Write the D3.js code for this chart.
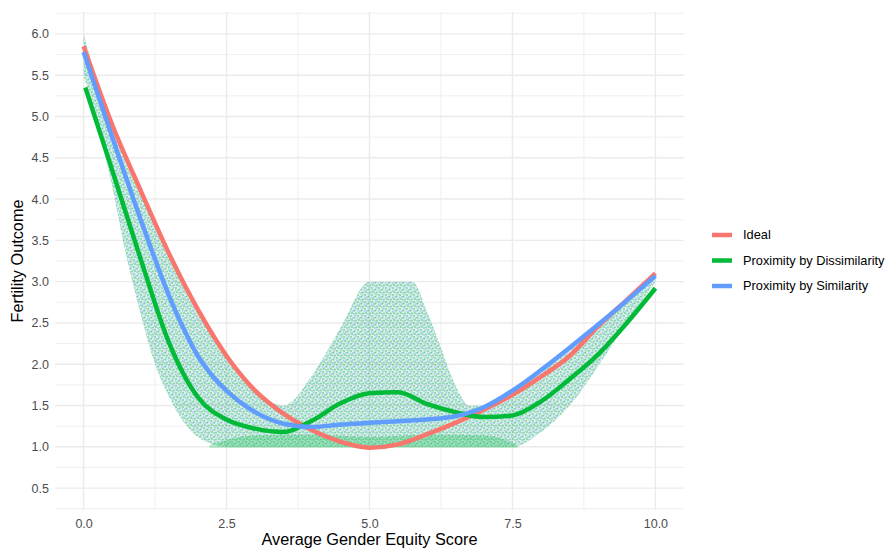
<!DOCTYPE html>
<html>
<head>
<meta charset="utf-8">
<script src="https://cdn.jsdelivr.net/npm/d3@7"></script>
<style>
    body { margin: 0; background: #fff; font-family: "Liberation Sans", Arial, sans-serif; }
</style>
</head>
<body>
<svg width="888" height="549"></svg>
<script>
// smoothed curves
const idealX = [0, 0.5, 1, 1.5, 2, 2.5, 3, 3.5, 4, 4.5, 5, 5.5, 6, 6.5, 7, 7.5, 8, 8.5, 9, 9.5, 10];
const idealValues = [5.85, 4.9, 4.1, 3.33, 2.66, 2.1, 1.68, 1.4, 1.2, 1.06, 0.99, 1.03, 1.15, 1.29, 1.45, 1.63, 1.85, 2.1, 2.46, 2.78, 3.1];
const similarityX = [0, 0.5, 1, 1.5, 1.75, 2, 2.25, 2.5, 3, 3.5, 4, 4.5, 5, 5.5, 6, 6.5, 7, 7.5, 8, 8.5, 9, 9.5, 10];
const similarityValues = [5.78, 4.75, 3.75, 2.82, 2.43, 2.1, 1.86, 1.68, 1.42, 1.28, 1.24, 1.27, 1.29, 1.31, 1.33, 1.37, 1.48, 1.68, 1.93, 2.2, 2.48, 2.77, 3.07];
const dissimilarityX = [0.03, 0.5, 1, 1.5, 2, 2.5, 3, 3.5, 4, 4.5, 5, 5.5, 6, 6.5, 7, 7.5, 8, 8.5, 9, 9.5, 10];
const dissimilarityValues = [5.35, 4.35, 3.27, 2.25, 1.6, 1.33, 1.22, 1.18, 1.32, 1.53, 1.65, 1.66, 1.52, 1.42, 1.36, 1.38, 1.55, 1.82, 2.12, 2.5, 2.92];

// outline of the scattered points (both proximity series)
const cloudX = [0, 0.25, 0.5, 0.75, 1, 1.25, 1.5, 1.75, 2, 2.25, 2.5, 3, 3.5, 4, 4.5, 5, 5.5, 5.75, 6, 6.25, 6.5, 6.75, 7, 7.5, 8, 8.5, 9, 9.5, 10];
const cloudHigh = [6.0, 5.4, 4.9, 4.5, 4.1, 3.7, 3.33, 2.98, 2.66, 2.37, 2.1, 1.68, 1.5, 1.87, 2.45, 3.0, 3.0, 3.0, 2.65, 2.2, 1.75, 1.5, 1.5, 1.7, 1.95, 2.22, 2.5, 2.8, 3.08];
const cloudLow = [5.5, 4.9, 4.15, 3.3, 2.6, 2.0, 1.6, 1.3, 1.12, 1.03, 1.0, 1.0, 1.0, 1.0, 1.0, 1.0, 1.0, 1.0, 1.0, 1.0, 1.0, 1.0, 1.0, 1.0, 1.18, 1.5, 1.98, 2.5, 3.0];
// dense band of points sitting on the floor
const floorX = [2.2, 2.6, 3, 4, 5, 6, 7, 7.4, 7.6];
const floorHigh = [1.02, 1.1, 1.14, 1.15, 1.12, 1.15, 1.14, 1.08, 1.01];

const seriesNames = ['Ideal', 'Proximity by Dissimilarity', 'Proximity by Similarity'];
const seriesColors = ['#F8766D', '#00BA38', '#619CFF'];
const xTicks = [0, 2.5, 5, 7.5, 10];
const yTicks = [0.5, 1, 1.5, 2, 2.5, 3, 3.5, 4, 4.5, 5, 5.5, 6];

const svg = d3.select('svg');
const panel = { left: 55, right: 684, top: 12, bottom: 510 };

const x = d3.scaleLinear().domain([-0.5, 10.5]).range([panel.left, panel.right]);
const y = d3.scaleLinear().domain([0.235, 6.265]).range([panel.bottom, panel.top]);

// speckle texture for the point cloud
const defs = svg.append('defs');
const pat = defs.append('pattern')
    .attr('id', 'speckle')
    .attr('patternUnits', 'userSpaceOnUse')
    .attr('width', 7).attr('height', 7);
pat.append('rect').attr('width', 7).attr('height', 7).attr('fill', '#4FB48A').attr('fill-opacity', 0.2);
[[1, 1, 0], [4.5, 2.5, 0], [2, 5, 0], [6, 5.5, 0], [3, 3, 1], [5.5, 0.5, 1], [0.5, 3.5, 1], [4, 6, 1]].forEach(d => {
    pat.append('circle')
        .attr('cx', d[0]).attr('cy', d[1]).attr('r', 0.9)
        .attr('fill', d[2] ? '#619CFF' : '#00BA38')
        .attr('fill-opacity', d[2] ? 0.45 : 0.5);
});

// gridlines
const minorX = [1.25, 3.75, 6.25, 8.75];
const minorY = d3.range(0.25, 6.3, 0.5);
const grid = svg.append('g').attr('class', 'grid');
grid.selectAll('.minor-x').data(minorX).enter().append('line')
    .attr('x1', d => x(d)).attr('x2', d => x(d))
    .attr('y1', panel.top).attr('y2', panel.bottom)
    .attr('stroke', '#EBEBEB').attr('stroke-width', 0.8);
grid.selectAll('.minor-y').data(minorY).enter().append('line')
    .attr('x1', panel.left).attr('x2', panel.right)
    .attr('y1', d => y(d)).attr('y2', d => y(d))
    .attr('stroke', '#EBEBEB').attr('stroke-width', 0.8);
grid.selectAll('.major-x').data(xTicks).enter().append('line')
    .attr('x1', d => x(d)).attr('x2', d => x(d))
    .attr('y1', panel.top).attr('y2', panel.bottom)
    .attr('stroke', '#EBEBEB').attr('stroke-width', 1.4);
grid.selectAll('.major-y').data(yTicks).enter().append('line')
    .attr('x1', panel.left).attr('x2', panel.right)
    .attr('y1', d => y(d)).attr('y2', d => y(d))
    .attr('stroke', '#EBEBEB').attr('stroke-width', 1.4);

// point cloud
const cloud = cloudX.map((v, i) => ({ x: v, lo: cloudLow[i], hi: cloudHigh[i] }));
const area = d3.area()
    .x(d => x(d.x)).y0(d => y(d.lo)).y1(d => y(d.hi))
    .curve(d3.curveMonotoneX);
svg.append('path').datum(cloud)
    .attr('d', area)
    .attr('fill', 'url(#speckle)');

const floor = floorX.map((v, i) => ({ x: v, lo: 0.99, hi: floorHigh[i] }));
svg.append('path').datum(floor)
    .attr('d', area)
    .attr('fill', '#00BA38').attr('fill-opacity', 0.28);

// smooth lines
const lineData = [
    idealX.map((v, i) => [v, idealValues[i]]),
    dissimilarityX.map((v, i) => [v, dissimilarityValues[i]]),
    similarityX.map((v, i) => [v, similarityValues[i]])
];
const line = d3.line().x(d => x(d[0])).y(d => y(d[1])).curve(d3.curveMonotoneX);
svg.selectAll('.smooth').data(lineData).enter().append('path')
    .attr('class', 'smooth')
    .attr('d', line)
    .attr('fill', 'none')
    .attr('stroke', (d, i) => seriesColors[i])
    .attr('stroke-width', 4.5)
    .attr('stroke-linecap', 'butt');

// axes (labels only, no lines)
const xAxis = svg.append('g')
    .attr('transform', `translate(0, ${panel.bottom + 3})`)
    .call(d3.axisBottom(x).tickValues(xTicks).tickFormat(d3.format('.1f')).tickSize(0));
const yAxis = svg.append('g')
    .attr('transform', `translate(${panel.left - 3}, 0)`)
    .call(d3.axisLeft(y).tickValues(yTicks).tickFormat(d3.format('.1f')).tickSize(0));
[xAxis, yAxis].forEach(a => {
    a.select('.domain').remove();
    a.selectAll('text')
        .style('font-family', '"Liberation Sans", Arial, sans-serif')
        .style('font-size', '12.5px')
        .attr('fill', '#4D4D4D');
});
xAxis.selectAll('text').attr('dy', '0.95em');

svg.append('text')
    .attr('x', (panel.left + panel.right) / 2)
    .attr('y', 545)
    .attr('text-anchor', 'middle')
    .style('font-size', '16.3px')
    .text('Average Gender Equity Score');

svg.append('text')
    .attr('transform', `translate(23, ${(panel.top + panel.bottom) / 2}) rotate(-90)`)
    .attr('text-anchor', 'middle')
    .style('font-size', '16.3px')
    .text('Fertility Outcome');

// legend
const legend = svg.append('g').attr('transform', 'translate(712, 235)');
const rows = legend.selectAll('g').data(seriesNames).enter().append('g')
    .attr('transform', (d, i) => `translate(0, ${i * 25.5})`);
rows.append('line')
    .attr('x1', 0).attr('x2', 20)
    .attr('stroke', (d, i) => seriesColors[i])
    .attr('stroke-width', 4.5);
rows.append('text')
    .attr('x', 31).attr('dy', '0.35em')
    .style('font-size', '12.8px')
    .text(d => d);
</script>
</body>
</html>
